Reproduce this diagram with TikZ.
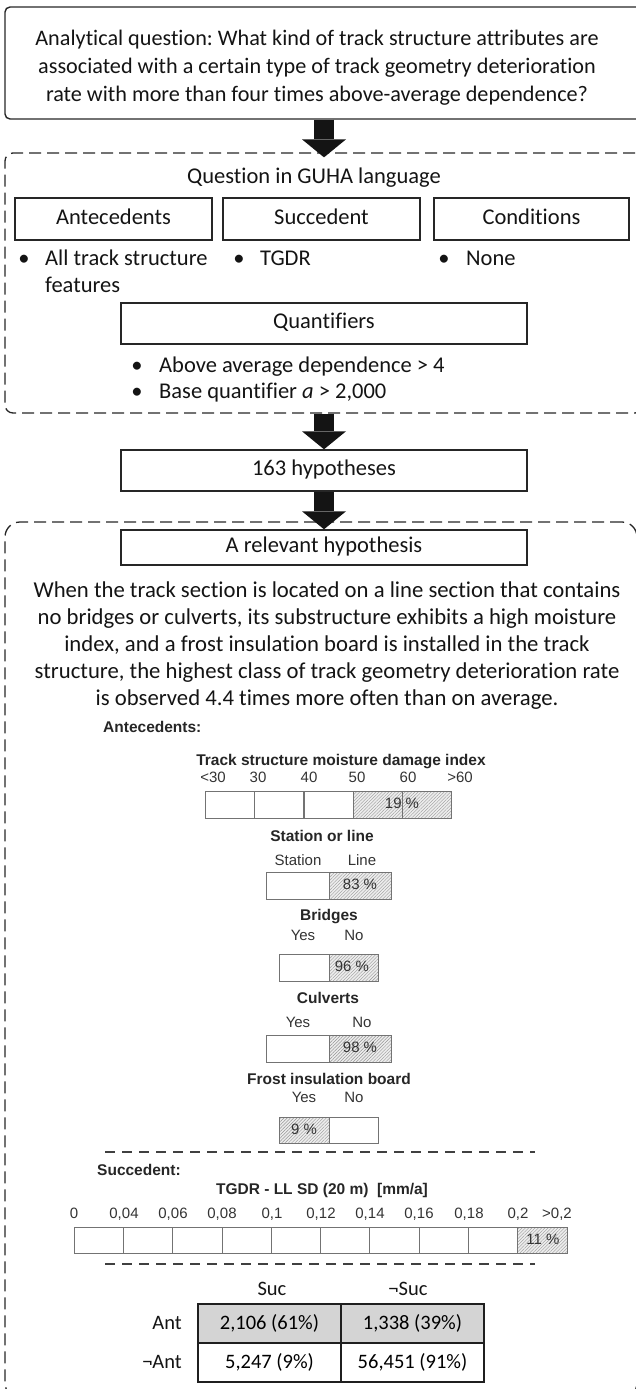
\documentclass[tikz,border=0pt]{standalone}
\usepackage{fontspec}
\setmainfont{Carlito}[Ligatures={NoCommon,NoContextual}]
\newfontfamily\chartfont{Liberation Sans}
\usetikzlibrary{arrows.meta,patterns.meta}
\frenchspacing

\begin{document}
\begin{tikzpicture}[x=1pt,y=-1pt,
  txt/.style={font=\fontsize{22.5}{28}\selectfont, text=black!92, inner sep=0pt},
  line/.style={txt, text height=15pt, text depth=5pt},
  box/.style={draw=black!85, line width=1.4pt, inner sep=0pt},
  dbox/.style={draw=black!85, line width=1.3pt, dash pattern=on 12pt off 6pt},
  flow/.style={draw=black!92, line width=20pt,
    -{Triangle[length=18pt 0 0, width=44pt 0 0, line width=0pt 0 0]}},
  ctxt/.style={font=\chartfont\fontsize{15}{18}\selectfont, text=black!80, inner sep=0pt,
    text height=11pt, text depth=3pt},
  ctitle/.style={font=\chartfont\bfseries\fontsize{15.5}{18}\selectfont, text=black!85, inner sep=0pt},
  cell/.style={draw=black!55, line width=0.8pt, fill=white, inner sep=0pt},
  hcell/.style={draw=black!55, line width=0.8pt, inner sep=0pt,
    preaction={fill=black!7},
    pattern={Lines[angle=45,distance=2.3pt,line width=0.4pt]}, pattern color=black!42},
  sep/.style={draw=black!75, line width=1.8pt, dash pattern=on 10pt off 7pt},
  tcell/.style={draw=black!88, line width=2pt, minimum width=143pt, minimum height=39pt,
    inner sep=0pt, font=\fontsize{20.5}{24}\selectfont},
]
\useasboundingbox (0,0) rectangle (636,1389);
\clip (0,0) rectangle (636,1389);

% ---- analytical question ----
\node[box, rounded corners=5pt, minimum width=638pt, minimum height=112pt] (qbox) at (324,63) {};
\node[txt, align=center, font=\fontsize{22.2}{28}\selectfont] (qtext) at (317,67.5) {Analytical question: What kind of track structure attributes are\\
associated with a certain type of track geometry deterioration\\
rate with more than four times above-average dependence?};

% ---- GUHA question ----
\node[dbox, rounded corners=8pt, minimum width=638pt, minimum height=260pt] (guha) at (324,283) {};
\node[line] (guhatitle) at (314,178) {Question in GUHA language};
\node[box, line, minimum width=197pt, minimum height=42pt] (ant) at (113.5,219) {Antecedents};
\node[box, line, minimum width=197pt, minimum height=42pt] (suc) at (321.5,219) {Succedent};
\node[box, line, minimum width=195pt, minimum height=42pt] (cond) at (531.5,219) {Conditions};

\node[line] (antb) at (24,260) {•};
\node[line, anchor=west] (antt1) at (45,260) {All track structure};
\node[line, anchor=west] (antt2) at (45,287) {features};
\node[line] (sucb) at (239,260) {•};
\node[line, anchor=west] (suct) at (260,260) {TGDR};
\node[line] (condb) at (444,260) {•};
\node[line, anchor=west] (condt) at (466,260) {None};

\node[box, line, minimum width=406pt, minimum height=41pt] (quant) at (324,323.5) {Quantifiers};
\node[line] (qb1) at (137,367) {•};
\node[line, anchor=west] (qt1) at (159,367) {Above average dependence > 4};
\node[line] (qb2) at (137,393) {•};
\node[line, anchor=west] (qt2) at (159,393) {Base quantifier \textit{a} > 2,000};

% ---- hypotheses ----
\node[box, line, minimum width=406pt, minimum height=41pt] (hyp) at (324,470.5) {163 hypotheses};

\node[dbox, rounded corners=15pt, minimum width=632pt, minimum height=876pt] (relbox) at (321,960) {};
\node[box, line, minimum width=406pt, minimum height=35pt] (rel) at (324,547.5) {A relevant hypothesis};

\node[txt, align=center, font=\fontsize{22.7}{27}\selectfont] (para) at (327,646) {When the track section is located on a line section that contains\\
no bridges or culverts, its substructure exhibits a high moisture\\
index, and a frost insulation board is installed in the track\\
structure, the highest class of track geometry deterioration rate\\
is observed 4.4 times more often than on average.};

% ---- flow arrows ----
\draw[flow] (qbox.south) -- ([yshift=-5pt]guha.north);
\draw[flow] (guha.south) -- (hyp.north);
\draw[flow] (hyp.south) -- (rel.north);

% ---- antecedents ----
\node[ctitle, anchor=west] (antlbl) at (103,727) {Antecedents:};

% moisture damage index
\node[ctitle] (mtitle) at (341,762) {Track structure moisture damage index};
\foreach \t/\x in {{<30}/213, 30/258, 40/309, 50/357, 60/408, {>60}/460}
  \node[ctxt] at (\x,778) {\t};
\foreach \i/\x in {1/229.5, 2/279, 3/328.5}
  \node[cell, minimum width=49pt, minimum height=27pt] (m\i) at (\x,804.5) {};
\foreach \i/\x in {4/377.5, 5/427}
  \node[hcell, minimum width=49pt, minimum height=27pt] (m\i) at (\x,804.5) {};
\node[ctxt] (mpct) at (402,804.5) {19 \%};

% station or line
\node[ctitle] (stitle) at (322,836) {Station or line};
\node[ctxt] (sl1) at (298,861) {Station};
\node[ctxt] (sl2) at (362,861) {Line};
\node[cell, minimum width=63pt, minimum height=27pt] (s1) at (297.5,885.5) {};
\node[hcell, minimum width=62pt, minimum height=27pt] (s2) at (360,885.5) {};
\node[ctxt] (spct) at (360,885.5) {83 \%};

% bridges
\node[ctitle] (btitle) at (329,917) {Bridges};
\node[ctxt] (bl1) at (303,936) {Yes};
\node[ctxt] (bl2) at (354,936) {No};
\node[cell, minimum width=50pt, minimum height=27pt] (b1) at (304,967.5) {};
\node[hcell, minimum width=49pt, minimum height=27pt] (b2) at (353.5,967.5) {};
\node[ctxt] (bpct) at (352,967.5) {96 \%};

% culverts
\node[ctitle] (ctitle) at (328,998) {Culverts};
\node[ctxt] (cl1) at (298,1023) {Yes};
\node[ctxt] (cl2) at (362,1023) {No};
\node[cell, minimum width=63pt, minimum height=27pt] (c1) at (297.5,1048.5) {};
\node[hcell, minimum width=62pt, minimum height=27pt] (c2) at (360,1048.5) {};
\node[ctxt] (cpct) at (360,1048.5) {98 \%};

% frost insulation board
\node[ctitle] (ftitle) at (329,1079) {Frost insulation board};
\node[ctxt] (fl1) at (304,1098) {Yes};
\node[ctxt] (fl2) at (354,1098) {No};
\node[hcell, minimum width=50pt, minimum height=26pt] (f1) at (304,1130) {};
\node[cell, minimum width=49pt, minimum height=26pt] (f2) at (353.5,1130) {};
\node[ctxt] (fpct) at (304,1130) {9 \%};

\draw[sep] (105,1152) -- (535,1152);

% ---- succedent ----
\node[ctitle, anchor=west] (suclbl) at (97,1170) {Succedent:};
\node[ctitle] (ttitle) at (322,1190) {TGDR - LL SD (20 m)\ \ [mm/a]};
\foreach \t/\x in {0/74, {0,04}/124, {0,06}/173, {0,08}/222, {0,1}/272, {0,12}/321,
                   {0,14}/370, {0,16}/419, {0,18}/469, {0,2}/518, {>0,2}/557}
  \node[ctxt] at (\x,1214) {\t};
\foreach \i in {0,...,8}
  \node[cell, minimum width=49.3pt, minimum height=26pt] (t\i) at ({98.65+49.3*\i},1240) {};
\node[hcell, minimum width=49.3pt, minimum height=26pt] (t9) at ({98.65+49.3*9},1240) {};
\node[ctxt] (tpct) at (543,1240) {11 \%};

\draw[sep] (105,1264) -- (535,1264);

% ---- contingency table ----
\node[line, font=\fontsize{20.5}{24}\selectfont] (hsuc) at (272,1290) {Suc};
\node[line, font=\fontsize{20.5}{24}\selectfont] (hnsuc) at (408,1290) {¬Suc};
\node[line, font=\fontsize{20.5}{24}\selectfont, anchor=east] (hant) at (182,1324) {Ant};
\node[line, font=\fontsize{20.5}{24}\selectfont, anchor=east] (hnant) at (182,1363) {¬Ant};
\node[tcell, fill=black!17] (a11) at (269.5,1323.5) {2,106 (61\%)};
\node[tcell, fill=black!17] (a12) at (412.5,1323.5) {1,338 (39\%)};
\node[tcell, fill=white] (a21) at (269.5,1362.5) {5,247 (9\%)};
\node[tcell, fill=white] (a22) at (412.5,1362.5) {56,451 (91\%)};
\end{tikzpicture}
\end{document}
